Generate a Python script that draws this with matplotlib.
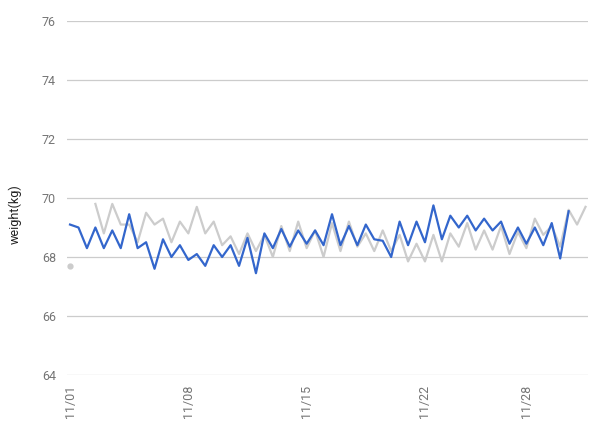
import numpy as np
import pandas as pd
import matplotlib
matplotlib.use("Agg")
import matplotlib.pyplot as plt
import matplotlib.dates as mdates

# twice a day readings (morning / evening), starting 11/01
start = "2023-11-01 00:00"
blue_weight = [69.1, 69.0, 68.3, 69.0, 68.3, 68.9, 68.3, 69.45, 68.3, 68.5,
               67.6, 68.6, 68.0, 68.4, 67.9, 68.1, 67.7, 68.4, 68.0, 68.4,
               67.7, 68.65, 67.45, 68.8, 68.3, 68.95, 68.35, 68.9, 68.45, 68.9,
               68.4, 69.45, 68.4, 69.05, 68.4, 69.1, 68.6, 68.55, 68.0, 69.2,
               68.4, 69.2, 68.5, 69.75, 68.6, 69.4, 69.0, 69.4, 68.9, 69.3,
               68.9, 69.2, 68.45, 69.0, 68.45, 69.0, 68.4, 69.15, 67.95, 69.55]
grey_weight = [67.7, None, None, 69.8, 68.8, 69.8, 69.1, 69.1, 68.5, 69.5,
               69.1, 69.3, 68.5, 69.2, 68.8, 69.7, 68.8, 69.2, 68.4, 68.7,
               68.1, 68.8, 68.2, 68.75, 68.0, 69.05, 68.2, 69.2, 68.3, 68.9,
               68.0, 69.15, 68.2, 69.2, 68.35, 68.8, 68.2, 68.9, 68.2, 68.75,
               67.85, 68.45, 67.85, 68.75, 67.85, 68.8, 68.35, 69.15, 68.25, 68.9,
               68.25, 69.05, 68.1, 68.85, 68.3, 69.3, 68.75, 69.05, 68.35, 69.6,
               69.1, 69.7]
tick_days = ["2023-11-01", "2023-11-08", "2023-11-15", "2023-11-22", "2023-11-28"]
tick_labels = ["11/01", "11/08", "11/15", "11/22", "11/28"]

times = pd.date_range(start, periods=len(grey_weight), freq="12h")
blue = pd.Series(blue_weight + [None] * (len(times) - len(blue_weight)), index=times, dtype=float)
grey = pd.Series(grey_weight, index=times, dtype=float)

plt.rcParams["font.family"] = ["Roboto", "DejaVu Sans"]

fig = plt.figure(figsize=(6.01, 4.26), dpi=100)
ax = fig.add_axes([67 / 601, 51 / 426, 521 / 601, 354 / 426])

ax.plot(blue.index, blue.values, color="#3366cc", lw=1.6, zorder=3)
ax.plot(grey.index, grey.values, color="#cccccc", lw=1.6, zorder=2)

# single points that have no neighbours get drawn as dots
g = grey.values
for i in range(len(g)):
    prev_nan = i == 0 or np.isnan(g[i - 1])
    next_nan = i == len(g) - 1 or np.isnan(g[i + 1])
    if not np.isnan(g[i]) and prev_nan and next_nan:
        ax.plot(grey.index[i], g[i], "o", color="#cccccc", ms=3.5, zorder=2)

ax.set_ylim(64, 76)
ax.set_yticks(np.arange(64, 77, 2))
ax.set_xlim(times[0] - pd.Timedelta(hours=4.3), times[-1] + pd.Timedelta(hours=3.5))
ax.set_xticks(mdates.date2num(pd.to_datetime(tick_days)))
ax.set_xticklabels(tick_labels, rotation=90)

ax.grid(axis="y", color="#cccccc", lw=0.9)
ax.set_axisbelow(True)
for s in ax.spines.values():
    s.set_visible(False)
ax.tick_params(axis="both", length=0, labelsize=9, labelcolor="#757575")
ax.tick_params(axis="y", pad=8)
ax.tick_params(axis="x", pad=7)

fig.text(15 / 601, 1 - 214 / 426, "weight(kg)", rotation=90, ha="center", va="center",
         fontsize=9, color="#222222")

fig.savefig("out.png", dpi=100)
